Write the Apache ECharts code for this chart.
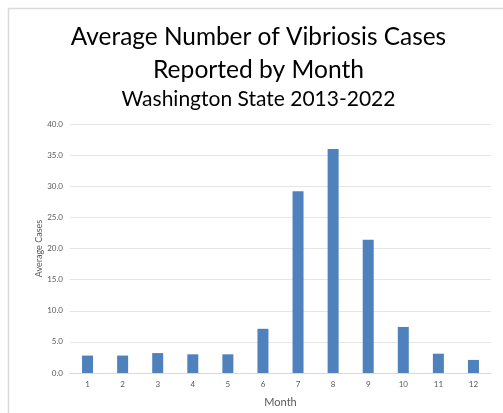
<!DOCTYPE html>
<html><head><meta charset="utf-8">
<script src="https://cdn.jsdelivr.net/npm/echarts@6/dist/echarts.min.js"></script>
<style>html,body{margin:0;padding:0;background:#fff}#c{width:503px;height:413px}</style>
</head><body><div id="c"></div>
<script>
var months = ['1','2','3','4','5','6','7','8','9','10','11','12'];
var avgCases = [2.8, 2.8, 3.2, 3.0, 3.0, 7.1, 29.2, 36.0, 21.4, 7.4, 3.1, 2.1];
var titleLine1 = 'Average Number of Vibriosis Cases';
var titleLine2 = 'Reported by Month';
var titleLine3 = 'Washington State 2013-2022';

var chart = echarts.init(document.getElementById('c'), null, {renderer: 'canvas'});
chart.setOption({
  animation: false,
  backgroundColor: '#fff',
  graphic: [
    {type: 'rect', shape: {x: 8.5, y: 8.5, width: 540, height: 450},
     style: {fill: 'none', stroke: '#d9d9d9', lineWidth: 1.5}, silent: true},
    {type: 'text', x: 258.5, y: 37.5, silent: true,
     style: {text: titleLine1, fontFamily: 'Lato', fontSize: 24.4, fill: '#000', align: 'center', verticalAlign: 'middle'}},
    {type: 'text', x: 258.5, y: 70, silent: true,
     style: {text: titleLine2, fontFamily: 'Lato', fontSize: 24.6, fill: '#000', align: 'center', verticalAlign: 'middle'}},
    {type: 'text', x: 258.5, y: 99, silent: true,
     style: {text: titleLine3, fontFamily: 'Lato', fontSize: 21, fill: '#000', align: 'center', verticalAlign: 'middle'}}
  ],
  grid: {left: 70, right: 12, top: 124, bottom: 36, containLabel: false},
  xAxis: {
    type: 'category', data: months,
    name: 'Month', nameLocation: 'middle', nameGap: 24, nameMoveOverlap: false,
    nameTextStyle: {fontFamily: 'Lato', fontSize: 11, color: '#595959'},
    axisLine: {lineStyle: {color: '#d9d9d9'}},
    axisTick: {show: false},
    axisLabel: {fontFamily: 'Lato', fontSize: 8, color: '#595959', margin: 7}
  },
  yAxis: {
    type: 'value', min: 0, max: 40, interval: 5,
    name: 'Average Cases', nameLocation: 'middle', nameGap: 26, nameRotate: 90, nameMoveOverlap: false,
    nameTextStyle: {fontFamily: 'Lato', fontSize: 9, color: '#595959'},
    axisLine: {show: false}, axisTick: {show: false},
    axisLabel: {fontFamily: 'Lato', fontSize: 8, color: '#595959', margin: 7,
      formatter: function(v){ return v.toFixed(1); }},
    splitLine: {lineStyle: {color: '#e6e6e6'}}
  },
  series: [{
    type: 'bar', data: avgCases, barWidth: 11,
    itemStyle: {color: '#4f81bd'}
  }]
});
</script></body></html>
